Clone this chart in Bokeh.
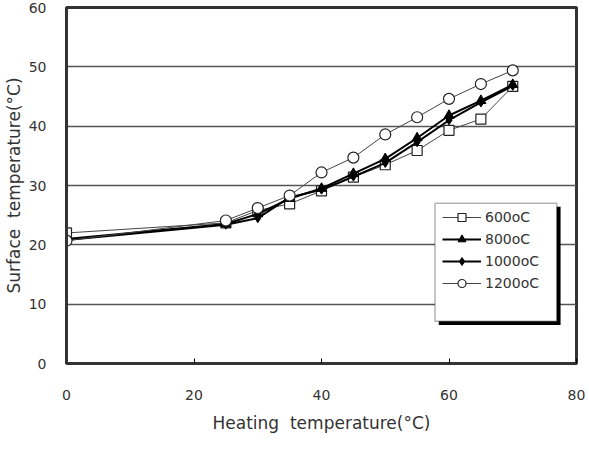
from bokeh.plotting import figure
from bokeh.models import Legend, LegendItem, BoxAnnotation, FixedTicker, Range1d
from bokeh.embed import file_html
from bokeh.resources import INLINE

heating = [0, 25, 30, 35, 40, 45, 50, 55, 60, 65, 70]
s600 = [22.0, 23.7, 25.8, 26.9, 29.1, 31.4, 33.5, 35.9, 39.3, 41.2, 46.7]
s800 = [21.0, 23.5, 25.2, 27.8, 29.5, 32.0, 34.5, 38.0, 41.8, 44.3, 47.0]
s1000 = [20.8, 23.4, 24.5, 28.0, 29.3, 31.5, 33.8, 37.3, 41.0, 44.0, 46.8]
s1200 = [20.7, 24.1, 26.2, 28.3, 32.2, 34.7, 38.6, 41.5, 44.6, 47.1, 49.4]
labels = ["600oC", "800oC", "1000oC", "1200oC"]
x_ticks = [0, 20, 40, 60, 80]
y_ticks = [0, 10, 20, 30, 40, 50, 60]

FONT = "DejaVu Sans"
NB = "\u00a0"

p = figure(width=589, height=452, output_backend="svg", toolbar_location=None,
           x_range=Range1d(0, 80), y_range=Range1d(0, 60),
           min_border_left=10, min_border_right=13, min_border_top=7, min_border_bottom=89)
p.background_fill_color = "white"
p.border_fill_color = "white"
p.outline_line_color = "#333333"
p.outline_line_width = 3

p.xgrid.visible = False
p.ygrid.ticker = FixedTicker(ticks=[10, 20, 30, 40, 50])
p.ygrid.grid_line_color = "#555555"
p.ygrid.grid_line_width = 1.6

p.xaxis.ticker = FixedTicker(ticks=x_ticks)
p.yaxis.ticker = FixedTicker(ticks=y_ticks)
for ax in (p.xaxis[0], p.yaxis[0]):
    ax.axis_line_width = 3
    ax.axis_line_color = "#333333"
    ax.major_label_text_font = FONT
    ax.major_label_text_font_size = "14px"
    ax.major_label_text_color = "#333333"
    ax.axis_label_text_font = FONT
    ax.axis_label_text_font_size = "17px"
    ax.axis_label_text_font_style = "normal"
    ax.axis_label_text_color = "#333333"
    ax.minor_tick_line_color = None
p.xaxis.major_tick_in = 5
p.xaxis.major_tick_out = 0
p.xaxis.major_tick_line_width = 1
p.yaxis.major_tick_line_color = None
p.xaxis.major_label_standoff = 26
p.yaxis.major_label_standoff = 14
p.xaxis.axis_label = "Heating" + NB + NB + "temperature(°C)"
p.yaxis.axis_label = "Surface" + NB + NB + "temperature(°C)"
p.xaxis.axis_label_standoff = 10
p.yaxis.axis_label_standoff = 2

# legend box + shadow (data units)
p.add_layout(BoxAnnotation(left=58.4, right=77.5, bottom=6.5, top=26.4,
                           fill_color="black", fill_alpha=1, line_color=None, level="annotation"))
p.add_layout(BoxAnnotation(left=57.8, right=76.9, bottom=7.1, top=27.0,
                           fill_color="white", fill_alpha=1, line_color="black",
                           line_width=1.5, level="annotation"))

l1 = p.line(heating, s600, line_color="#444444", line_width=1)
m1 = p.scatter(heating, s600, marker="square", size=10, fill_color="white", line_color="#222222", line_width=1.2)
l2 = p.line(heating, s800, line_color="black", line_width=2)
m2 = p.scatter(heating, s800, marker="triangle", size=10, fill_color="black", line_color="black")
l3 = p.line(heating, s1000, line_color="black", line_width=2)
m3 = p.scatter(heating, s1000, marker="diamond", size=9, fill_color="black", line_color="black")
l4 = p.line(heating, s1200, line_color="#444444", line_width=1)
m4 = p.scatter(heating, s1200, marker="circle", size=11, fill_color="white", line_color="#222222", line_width=1.2)

legend = Legend(items=[
    LegendItem(label=labels[0], renderers=[l1, m1]),
    LegendItem(label=labels[1], renderers=[l2, m2]),
    LegendItem(label=labels[2], renderers=[l3, m3]),
    LegendItem(label=labels[3], renderers=[l4, m4]),
], location=(376, 70), orientation="vertical",
    background_fill_alpha=0, border_line_color=None,
    label_text_font=FONT, label_text_font_size="14px", label_text_color="#333333",
    glyph_width=39, glyph_height=20, label_height=20, spacing=2, padding=2,
    label_standoff=4, margin=0)
p.add_layout(legend, "center")

open("out.html", "w").write(file_html(p, INLINE))
